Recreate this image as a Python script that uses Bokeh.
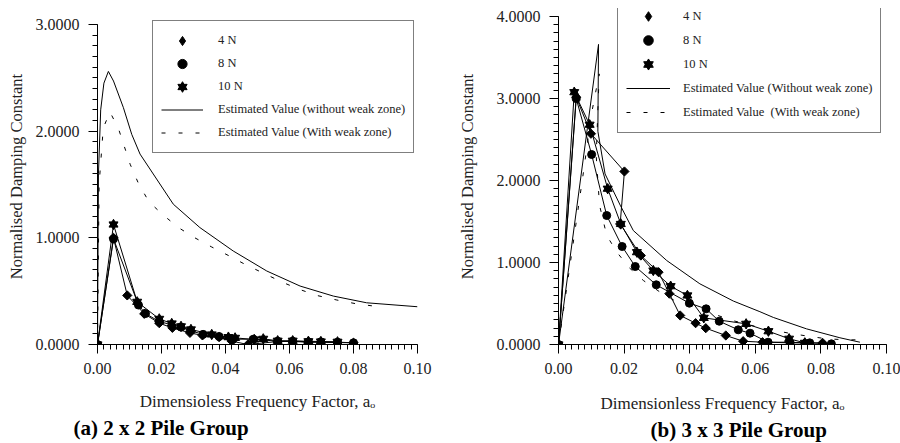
import math
from bokeh.plotting import figure
from bokeh.layouts import row
from bokeh.models import (SingleIntervalTicker, PrintfTickFormatter, Legend,
                          LegendItem, Title, Range1d)
from bokeh.embed import file_html
from bokeh.resources import INLINE

FONT = "Liberation Serif"

# ---------------- (a) 2 x 2 pile group ----------------
a_title = "(a) 2 x 2 Pile Group"
a_xlabel = "Dimensioless Frequency Factor, a\u2092"
a_labels = ["4 N", "8 N", "10 N",
            "Estimated Value (without weak zone)",
            "Estimated Value (With weak zone)"]
a_ymax = 3.0

a_4N_x = [0, 0.005, 0.0093, 0.0146, 0.0193, 0.0234, 0.0289, 0.0328, 0.038, 0.042, 0.047, 0.0563, 0.061, 0.0659, 0.080]
a_4N_y = [0, 1.00, 0.46, 0.288, 0.20, 0.156, 0.109, 0.085, 0.069, 0.031, 0.0, 0.028, 0.028, 0.022, 0.016]

a_8N_x = [0, 0.005, 0.0128, 0.0150, 0.0193, 0.0261, 0.0290, 0.0330, 0.038, 0.042, 0.0487, 0.0563, 0.061, 0.0659, 0.0698, 0.075, 0.080]
a_8N_y = [0, 0.99, 0.37, 0.29, 0.215, 0.163, 0.13, 0.095, 0.075, 0.05, 0.05, 0.031, 0.031, 0.025, 0.025, 0.022, 0.016]

a_10N_x = [0, 0.005, 0.0124, 0.0193, 0.0232, 0.0261, 0.0292, 0.0357, 0.0409, 0.043, 0.049, 0.0518, 0.0563, 0.061, 0.0659, 0.0698, 0.075]
a_10N_y = [0, 1.125, 0.40, 0.24, 0.197, 0.17, 0.141, 0.094, 0.069, 0.062, 0.047, 0.053, 0.035, 0.035, 0.03, 0.028, 0.025]

a_est_x = [0, 0.0003, 0.001, 0.002, 0.0034, 0.005, 0.0081, 0.0107, 0.0133, 0.0237, 0.032, 0.0424, 0.0529, 0.0633, 0.0737, 0.0841, 0.10]
a_est_y = [0, 1.6, 2.2, 2.45, 2.56, 2.47, 2.22, 1.97, 1.785, 1.315, 1.096, 0.877, 0.689, 0.548, 0.454, 0.391, 0.354]

a_weak_x = [0, 0.0005, 0.0018, 0.0039, 0.0066, 0.0102, 0.0128, 0.0161, 0.0206, 0.0253, 0.0303, 0.0357, 0.0412, 0.0467, 0.0522, 0.0576, 0.0631, 0.0685, 0.0748, 0.0808, 0.089]
a_weak_y = [0, 1.5, 2.03, 2.18, 2.02, 1.69, 1.51, 1.337, 1.212, 1.096, 1.002, 0.914, 0.83, 0.742, 0.664, 0.586, 0.517, 0.46, 0.417, 0.382, 0.35]

# ---------------- (b) 3 x 3 pile group ----------------
b_title = "(b) 3 x 3 Pile Group"
b_xlabel = "Dimensionless Frequency Factor, a\u2092"
b_labels = ["4 N", "8 N", "10 N",
            "Estimated Value (Without weak zone)",
            "Estimated Value  (With weak zone)"]
b_ymax = 4.0

b_4N_x = [0, 0.0054, 0.0099, 0.0201, 0.0188, 0.0251, 0.0305, 0.0338, 0.0371, 0.0418, 0.0449, 0.051, 0.0563, 0.0622, 0.0705, 0.0751, 0.0805]
b_4N_y = [0, 3.016, 2.57, 2.11, 1.47, 1.085, 0.882, 0.62, 0.354, 0.26, 0.199, 0.11, 0.04, 0.028, 0.028, 0.02, 0.02]

b_8N_x = [0, 0.0054, 0.0101, 0.0147, 0.0194, 0.0234, 0.0298, 0.0399, 0.045, 0.049, 0.0548, 0.0584, 0.0639, 0.0706, 0.0766, 0.0832]
b_8N_y = [0, 3.0, 2.317, 1.573, 1.195, 0.951, 0.728, 0.504, 0.435, 0.284, 0.179, 0.138, 0.028, 0.02, 0.02, 0.008]

b_10N_x = [0, 0.0048, 0.0095, 0.015, 0.019, 0.0239, 0.0289, 0.0342, 0.0393, 0.0443, 0.0572, 0.064, 0.0703, 0.0751]
b_10N_y = [0, 3.077, 2.68, 1.90, 1.47, 1.126, 0.902, 0.711, 0.598, 0.325, 0.252, 0.162, 0.07, 0.02]

b_est_x = [0, 0.0122, 0.012, 0.0142, 0.0188, 0.0228, 0.033, 0.0431, 0.0533, 0.0614, 0.0655, 0.0756, 0.0858, 0.0919]
b_est_y = [0, 3.66, 2.6, 2.08, 1.70, 1.39, 1.024, 0.74, 0.53, 0.40, 0.33, 0.191, 0.082, 0.028]

b_weak_x = [0, 0.0076, 0.010, 0.0124, 0.0115, 0.0125, 0.0147, 0.0178, 0.0216, 0.0259, 0.031, 0.0362, 0.0452, 0.0533, 0.062, 0.0703, 0.0761, 0.0819, 0.0878, 0.0909]
b_weak_y = [0, 2.10, 2.80, 3.30, 2.30, 1.70, 1.33, 1.126, 0.935, 0.78, 0.638, 0.516, 0.40, 0.29, 0.20, 0.138, 0.101, 0.069, 0.057, 0.057]

NAN = float("nan")


def style_axes(p, xlabel, ymax, xlab_standoff, ylab_standoff):
    p.xaxis.ticker = SingleIntervalTicker(interval=0.02, num_minor_ticks=10)
    p.yaxis.ticker = SingleIntervalTicker(interval=1, num_minor_ticks=10)
    p.xaxis.formatter = PrintfTickFormatter(format="%.2f")
    p.yaxis.formatter = PrintfTickFormatter(format="%.4f")
    p.yaxis.bounds = (0, ymax)
    p.xaxis.axis_label = xlabel
    p.yaxis.axis_label = "Normalised Damping Constant"
    for ax in (p.xaxis, p.yaxis):
        ax.axis_line_color = "black"
        ax.axis_line_width = 1
        ax.major_tick_line_color = "black"
        ax.minor_tick_line_color = "black"
        ax.major_tick_in = 0
        ax.major_tick_out = 9
        ax.minor_tick_in = 0
        ax.minor_tick_out = 5
        ax.major_label_text_font = FONT
        ax.major_label_text_font_size = "16px"
        ax.major_label_text_color = "#222222"
        ax.major_label_standoff = 9
        ax.axis_label_text_font = FONT
        ax.axis_label_text_font_style = "normal"
        ax.axis_label_text_color = "#222222"
    p.xaxis.axis_label_text_font_size = "17px"
    p.yaxis.axis_label_text_font_size = "16.5px"
    p.xaxis.axis_label_standoff = xlab_standoff
    p.yaxis.axis_label_standoff = ylab_standoff
    p.xgrid.visible = False
    p.ygrid.visible = False
    p.outline_line_color = None


def add_series(p, x4, y4, x8, y8, x10, y10, xe, ye, xw, yw, labels, loc,
               gw, gh, standoff):
    r_est = p.line(xe, ye, line_color="black", line_width=1)
    r_weak = p.line(xw, yw, line_color="black", line_width=1, line_dash="4 13")
    for xs, ys in ((x4, y4), (x8, y8), (x10, y10)):
        p.line(xs, ys, line_color="black", line_width=1)
    p.scatter(x4, y4, marker="square", size=6.5, angle=math.pi / 4,
              fill_color="black", line_color="black")
    # legend-only glyph for the 4 N diamond (legend ignores marker angle)
    r4_leg = p.scatter([NAN], [NAN], marker="diamond",
                       fill_color="black", line_color="black")
    r8 = p.scatter(x8, y8, marker="circle", size=8,
                   fill_color="black", line_color="black")
    r10a = p.scatter(x10, y10, marker="triangle", size=9,
                     fill_color="black", line_color="black")
    r10b = p.scatter(x10, y10, marker="inverted_triangle", size=9,
                     fill_color="black", line_color="black")
    items = [LegendItem(label=labels[0], renderers=[r4_leg]),
             LegendItem(label=labels[1], renderers=[r8]),
             LegendItem(label=labels[2], renderers=[r10a, r10b]),
             LegendItem(label=labels[3], renderers=[r_est]),
             LegendItem(label=labels[4], renderers=[r_weak])]
    leg = Legend(items=items, location=loc)
    leg.glyph_width = gw
    leg.glyph_height = gh
    leg.label_height = gh
    leg.spacing = 0
    leg.label_standoff = standoff
    leg.padding = 8
    leg.label_text_font = FONT
    leg.label_text_font_size = "12.5px"
    leg.label_text_color = "#222222"
    leg.border_line_color = "black"
    leg.border_line_width = 1
    leg.background_fill_color = "white"
    leg.background_fill_alpha = 1
    p.add_layout(leg)


def add_caption(p, text, offset, standoff):
    p.add_layout(Title(text=text, align="left", offset=offset, standoff=standoff,
                       text_font=FONT, text_font_style="bold",
                       text_font_size="21px", text_color="black"), "below")


# Both frames span y = 8..344; the top tick sits 16px (left) / 8px (right) lower.
# left figure: frame x = 97..417
p1 = figure(width=450, height=443, min_border_left=97, min_border_right=33,
            min_border_top=8, min_border_bottom=99,
            x_range=Range1d(0, 0.10), y_range=Range1d(0, a_ymax * 336 / 320),
            output_backend="svg", toolbar_location=None)
style_axes(p1, a_xlabel, a_ymax, 15, 7)
add_series(p1, a_4N_x, a_4N_y, a_8N_x, a_8N_y, a_10N_x, a_10N_y,
           a_est_x, a_est_y, a_weak_x, a_weak_y, a_labels, (55, 191), 42, 23, 15)
add_caption(p1, a_title, -24, 0)

# right figure: frame x = 558..886
p2 = figure(width=450, height=443, min_border_left=108, min_border_right=14,
            min_border_top=8, min_border_bottom=99,
            x_range=Range1d(0, 0.10), y_range=Range1d(0, b_ymax * 336 / 328),
            output_backend="svg", toolbar_location=None)
style_axes(p2, b_xlabel, b_ymax, 17, 17)
add_series(p2, b_4N_x, b_4N_y, b_8N_x, b_8N_y, b_10N_x, b_10N_y,
           b_est_x, b_est_y, b_weak_x, b_weak_y, b_labels, (59, 211), 44, 24, 13)
add_caption(p2, b_title, 92, 0)

layout = row(p1, p2)
open("out.html", "w").write(file_html(layout, INLINE))
